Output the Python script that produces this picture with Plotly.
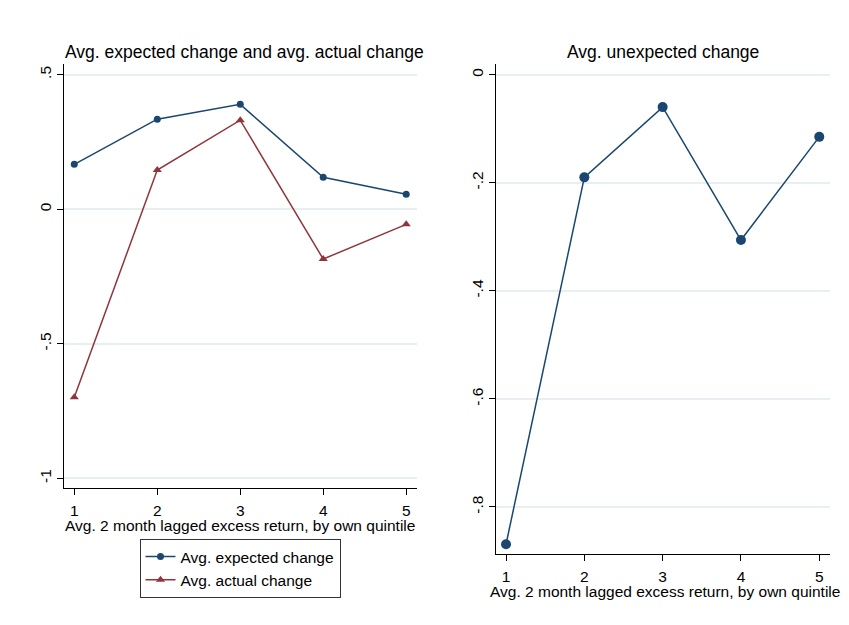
import plotly.graph_objects as go

quintiles = [1, 2, 3, 4, 5]
expected_change = [0.167, 0.335, 0.390, 0.119, 0.056]
actual_change = [-0.699, 0.146, 0.331, -0.185, -0.056]
unexpected_change = [-0.869, -0.190, -0.060, -0.306, -0.115]

left_yticks = [0.5, 0, -0.5, -1]
left_yticklabels = [".5", "0", "-.5", "-1"]
right_yticks = [0, -0.2, -0.4, -0.6, -0.8]
right_yticklabels = ["0", "-.2", "-.4", "-.6", "-.8"]

BLUE = "#1a476f"
RED = "#90353b"
GRID = "#e8eff0"
FONT = "Liberation Sans, Arial, sans-serif"
W, H = 849, 625

fig = go.Figure()
fig.add_trace(go.Scatter(x=quintiles, y=expected_change, mode="lines+markers",
                         name="Avg. expected change", line=dict(color=BLUE, width=1.5),
                         marker=dict(symbol="circle", size=7, color=BLUE),
                         xaxis="x", yaxis="y"))
fig.add_trace(go.Scatter(x=quintiles, y=actual_change, mode="lines+markers",
                         name="Avg. actual change", line=dict(color=RED, width=1.5),
                         marker=dict(symbol="triangle-up", size=8, color=RED),
                         xaxis="x", yaxis="y"))
fig.add_trace(go.Scatter(x=quintiles, y=unexpected_change, mode="lines+markers",
                         name="Avg. unexpected change", line=dict(color=BLUE, width=1.5),
                         marker=dict(symbol="circle", size=10, color=BLUE),
                         showlegend=False, xaxis="x2", yaxis="y2"))

axis_common = dict(showline=True, linecolor="black", linewidth=1.2, ticks="outside",
                   ticklen=6, tickcolor="black", tickfont=dict(size=15.5, color="black", family=FONT),
                   zeroline=False)

fig.update_layout(
    width=W, height=H, autosize=False,
    margin=dict(l=0, r=0, t=0, b=0),
    paper_bgcolor="white", plot_bgcolor="white",
    font=dict(family=FONT, color="black", size=15.5),
    xaxis=dict(domain=[64 / W, 417 / W], range=[0.876, 5.13], tickvals=quintiles,
               showgrid=False, anchor="y", ticklabelstandoff=2, **axis_common),
    yaxis=dict(domain=[1 - 488 / H, 1 - 64 / H], range=[-1.036, 0.54], tickvals=left_yticks,
               ticktext=left_yticklabels, tickangle=-90, showgrid=True, gridcolor=GRID,
               gridwidth=1.5, anchor="x", **axis_common),
    xaxis2=dict(domain=[496 / W, 830 / W], range=[0.872, 5.137], tickvals=quintiles,
                showgrid=False, anchor="y2", ticklabelstandoff=2, **axis_common),
    yaxis2=dict(domain=[1 - 554 / H, 1 - 64 / H], range=[-0.887, 0.0198], tickvals=right_yticks,
                ticktext=right_yticklabels, tickangle=-90, showgrid=True, gridcolor=GRID,
                gridwidth=1.5, anchor="x2", **axis_common),
    legend=dict(x=240 / W, xanchor="center", y=1 - 539 / H, yanchor="top",
                bordercolor="#333333", borderwidth=1, bgcolor="white",
                font=dict(size=15.5, family=FONT, color="black"), tracegroupgap=2),
    annotations=[
        dict(text="Avg. expected change and avg. actual change", x=244 / W, y=1 - 52 / H,
             xref="paper", yref="paper", xanchor="center", yanchor="middle",
             showarrow=False, font=dict(size=17.5)),
        dict(text="Avg. unexpected change", x=663 / W, y=1 - 52 / H,
             xref="paper", yref="paper", xanchor="center", yanchor="middle",
             showarrow=False, font=dict(size=17.5)),
        dict(text="Avg. 2 month lagged excess return, by own quintile", x=240 / W, y=1 - 525 / H,
             xref="paper", yref="paper", xanchor="center", yanchor="middle",
             showarrow=False, font=dict(size=15.5)),
        dict(text="Avg. 2 month lagged excess return, by own quintile", x=665 / W, y=1 - 591 / H,
             xref="paper", yref="paper", xanchor="center", yanchor="middle",
             showarrow=False, font=dict(size=15.5)),
    ],
)

fig.write_html("out.html")
